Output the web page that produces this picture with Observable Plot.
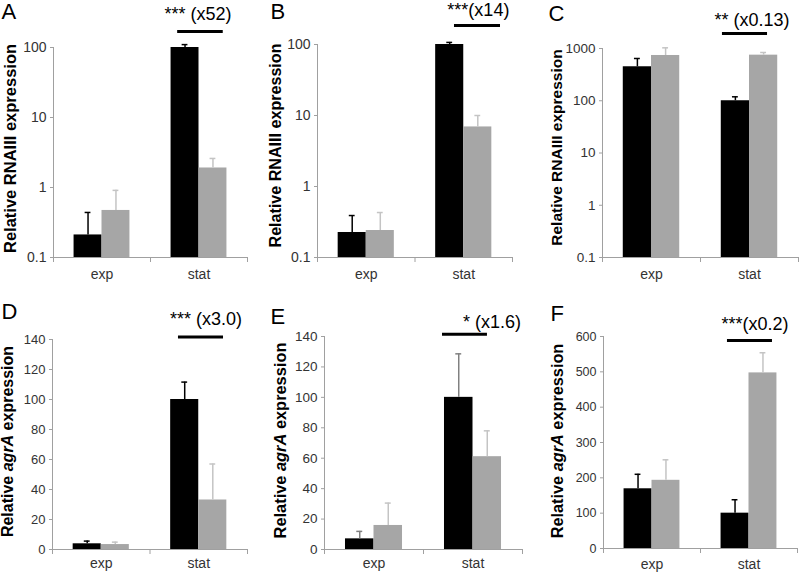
<!DOCTYPE html>
<html><head><meta charset="utf-8">
<script src="https://cdn.jsdelivr.net/npm/d3@7"></script>
<script src="https://cdn.jsdelivr.net/npm/@observablehq/plot@0.6"></script>
<style>
body{margin:0;background:#fff;}
#fig{position:relative;width:800px;height:574px;overflow:hidden;font-family:Arial,"Liberation Sans",sans-serif;background:#fff;}
#fig svg{position:absolute;}
</style></head><body><div id="fig"></div>
<script>
const categories = ["exp", "stat"];

// Panel A – RNAIII (log)
const aBlack = [0.21, 100], aBlackErr = [0.23, 10];
const aGray = [0.47, 1.9], aGrayErr = [0.44, 0.7];
// Panel B – RNAIII (log)
const bBlack = [0.225, 100], bBlackErr = [0.165, 7];
const bGray = [0.24, 6.9], bGrayErr = [0.19, 3.1];
// Panel C – RNAIII (log)
const cBlack = [447, 100], cBlackErr = [197, 19];
const cGray = [735, 746], cGrayErr = [295, 93];
// Panel D – agrA
const dBlack = [3.8, 100], dBlackErr = [1.8, 11.6];
const dGray = [3.3, 33], dGrayErr = [1.6, 24];
// Panel E – agrA
const eBlack = [7.0, 100], eBlackErr = [4.9, 28.6];
const eGray = [15.8, 61], eGrayErr = [14.7, 17];
// Panel F – agrA
const fBlack = [169, 100], fBlackErr = [41, 38];
const fGray = [193, 497], fGrayErr = [58, 57];

const ticksLog3 = [0.1, 1, 10, 100];
const ticksLog4 = [0.1, 1, 10, 100, 1000];
const ticksD = [0, 20, 40, 60, 80, 100, 120, 140];
const ticksF = [0, 100, 200, 300, 400, 500, 600];

const letters = ["A", "B", "C", "D", "E", "F"];
const notes = ["*** (x52)", "***(x14)", "** (x0.13)", "*** (x3.0)", "* (x1.6)", "***(x0.2)"];
const titleRNA = "Relative RNAIII expression";
const titleAgr = "Relative agrA expression";

// layout / style config (positions, not data)
const panels = [
  {black: aBlack, blackErr: aBlackErr, gray: aGray, grayErr: aGrayErr, log: true, domain: [0.1, 100], ticks: ticksLog3, title: titleRNA,
   box: {left: 0, top: 0, width: 265, height: 290, mt: 47, mb: 33, ml: 53, mr: 18},
   tickFont: 14, titleFont: 16.5, titleDx: -42.5, titleDy: -4, letterDx: -52, letterDy: -44,
   note: {tx: 1.49, x1: 1.28, x2: 1.75, textDy: -33, lineDy: -16}, labelDy: 17.5, blackErrColor: "#000"},
  {black: bBlack, blackErr: bBlackErr, gray: bGray, grayErr: bGrayErr, log: true, domain: [0.1, 100], ticks: ticksLog3, title: titleRNA,
   box: {left: 265, top: 0, width: 270, height: 290, mt: 44, mb: 33, ml: 52, mr: 23},
   tickFont: 14, titleFont: 16.1, titleDx: -42, titleDy: -5.5, letterDx: -47, letterDy: -41,
   note: {tx: 1.65, x1: 1.405, x2: 1.877, textDy: -34, lineDy: -19}, labelDy: 17.5, blackErrColor: "#000"},
  {black: cBlack, blackErr: cBlackErr, gray: cGray, grayErr: cGrayErr, log: true, domain: [0.1, 1000], ticks: ticksLog4, title: titleRNA,
   box: {left: 530, top: 0, width: 270, height: 290, mt: 48, mb: 33, ml: 72, mr: 2},
   tickFont: 13.5, titleFont: 15.5, titleDx: -45.5, titleDy: -5.5, letterDx: -54, letterDy: -43,
   note: {tx: 1.525, x1: 1.224, x2: 1.684, textDy: -28.5, lineDy: -15}, labelDy: 17.5, blackErrColor: "#000"},
  {black: dBlack, blackErr: dBlackErr, gray: dGray, grayErr: dGrayErr, log: false, domain: [0, 140], ticks: ticksD, title: titleAgr,
   box: {left: 0, top: 285, width: 265, height: 289, mt: 54, mb: 25, ml: 52, mr: 18},
   tickFont: 13, titleFont: 16, titleDx: -44.5, titleDy: -3, letterDx: -51, letterDy: -36,
   note: {tx: 1.574, x1: 1.292, x2: 1.754, textDy: -20.5, lineDy: -2.5}, labelDy: 14.5, blackErrColor: "#000"},
  {black: eBlack, blackErr: eBlackErr, gray: eGray, grayErr: eGrayErr, log: false, domain: [0, 140], ticks: ticksD, title: titleAgr,
   box: {left: 265, top: 285, width: 270, height: 289, mt: 51, mb: 25, ml: 59, mr: 13},
   tickFont: 13.5, titleFont: 16.4, titleDx: -44, titleDy: -2.5, letterDx: -54, letterDy: -28,
   note: {tx: 1.692, x1: 1.192, x2: 1.646, textDy: -14.5, lineDy: -2.3}, labelDy: 14.5, blackErrColor: "#808080"},
  {black: fBlack, blackErr: fBlackErr, gray: fGray, grayErr: fGrayErr, log: false, domain: [0, 600], ticks: ticksF, title: titleAgr,
   box: {left: 530, top: 285, width: 270, height: 289, mt: 51, mb: 26, ml: 73, mr: 3},
   tickFont: 12.5, titleFont: 16.3, titleDx: -45.5, titleDy: -1.5, letterDx: -53, letterDy: -31,
   note: {tx: 1.562, x1: 1.278, x2: 1.742, textDy: -12.5, lineDy: 4}, labelDy: 16, blackErrColor: "#000"}
];

const BAR_W = 0.288, CAP = 0.03;
const BLACK = "#000000", GRAY = "#a6a6a6", GRAY_ERR = "#c4c4c4", AXIS = "#a0a0a0", TEXT = "#333333";
const fig = document.getElementById("fig");

panels.forEach((p, k) => {
  const base = p.domain[0];
  const rows = categories.flatMap((c, i) => [
    {cat: c, i, s: "black", v: p.black[i], e: p.blackErr[i], x1: i + 0.5 - BAR_W, x2: i + 0.5},
    {cat: c, i, s: "gray", v: p.gray[i], e: p.grayErr[i], x1: i + 0.5, x2: i + 0.5 + BAR_W}
  ]);
  const cx = d => (d.x1 + d.x2) / 2;
  const errColor = d => d.s === "black" ? p.blackErrColor : GRAY_ERR;
  const b = p.box;
  const ymax = p.domain[1];
  const chart = Plot.plot({
    width: b.width, height: b.height,
    marginTop: b.mt, marginBottom: b.mb, marginLeft: b.ml, marginRight: b.mr,
    style: {fontFamily: "Arial, 'Liberation Sans', sans-serif", color: "#000", background: "transparent", overflow: "visible"},
    x: {domain: [0, 2]},
    y: p.log ? {type: "log", domain: p.domain} : {domain: p.domain},
    marks: [
      Plot.rect(rows, {x1: "x1", x2: "x2", y1: () => base, y2: "v", fill: d => d.s === "black" ? BLACK : GRAY}),
      Plot.ruleX(rows, {x: cx, y1: "v", y2: d => d.v + d.e, stroke: errColor, strokeWidth: 1.5}),
      Plot.ruleY(rows, {y: d => d.v + d.e, x1: d => cx(d) - CAP, x2: d => cx(d) + CAP, stroke: errColor, strokeWidth: 1.5}),
      Plot.ruleX([0], {stroke: AXIS}),
      Plot.ruleY([base], {stroke: AXIS}),
      Plot.axisY({ticks: p.ticks, tickFormat: d => String(d), tickSize: 3, tickPadding: 4, stroke: AXIS, fill: TEXT, fontSize: p.tickFont, label: null}),
      Plot.axisX({ticks: [0, 1, 2], tickFormat: () => "", tickSize: 5, stroke: AXIS, label: null}),
      Plot.text(categories.map((c, i) => ({c, x: i + 0.5})), {x: "x", text: "c", frameAnchor: "bottom", lineAnchor: "middle", dy: p.labelDy, fontSize: 14, fill: TEXT}),
      Plot.text([p.title], {text: d => d, frameAnchor: "left", textAnchor: "middle", lineAnchor: "middle", rotate: -90, dx: p.titleDx, dy: p.titleDy, fontWeight: "bold", fontSize: p.titleFont, fill: "#000"}),
      Plot.text([letters[k]], {text: d => d, frameAnchor: "top-left", textAnchor: "start", lineAnchor: "top", dx: p.letterDx, dy: p.letterDy, fontSize: 22, fill: "#000"}),
      Plot.text([notes[k]], {x: () => p.note.tx, text: d => d, frameAnchor: "top", lineAnchor: "middle", dy: p.note.textDy, fontSize: 18, fill: "#000"}),
      Plot.ruleY([p.note], {y: () => ymax, x1: "x1", x2: "x2", dy: p.note.lineDy, stroke: "#000", strokeWidth: 3})
    ]
  });
  chart.style.left = b.left + "px";
  chart.style.top = b.top + "px";
  d3.select(chart).selectAll("text").each(function () {
    if (this.textContent === titleAgr) {
      const t = d3.select(this);
      t.text("");
      t.append("tspan").text("Relative ");
      t.append("tspan").attr("font-style", "italic").text("agrA");
      t.append("tspan").text(" expression");
    }
  });
  fig.appendChild(chart);
});
</script></body></html>
